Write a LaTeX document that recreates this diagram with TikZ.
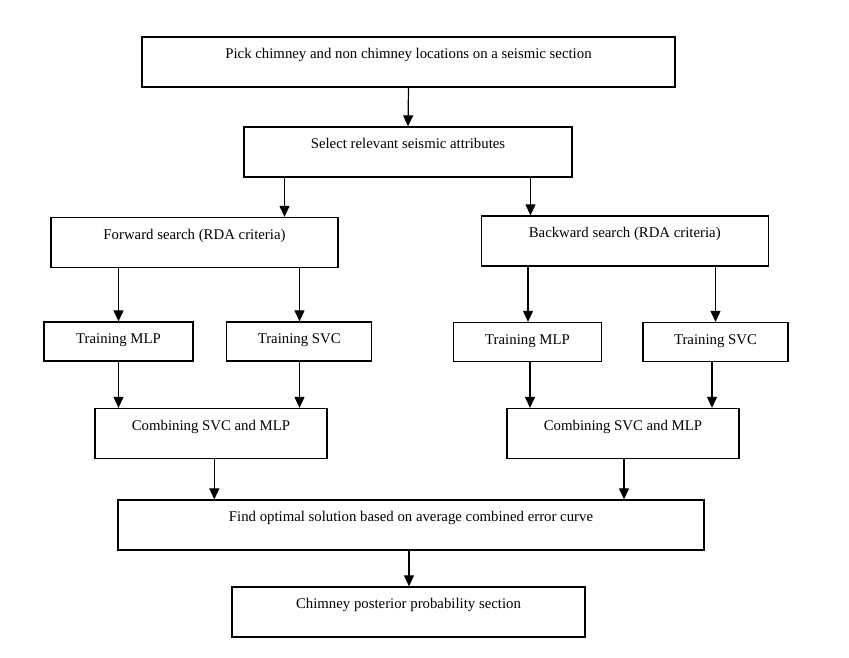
\documentclass[tikz,border=0pt]{standalone}
\usepackage{fontspec}
\setmainfont{Liberation Serif}
\usetikzlibrary{arrows.meta}
\begin{document}
\begin{tikzpicture}[x=1pt,y=-1pt,
  every node/.style={font=\fontsize{14.8}{17}\selectfont},
  boxbase/.style={draw, line width=1.3pt, inner sep=0pt, text height=10pt},
  bigbox/.style={boxbase, minimum height=50pt, text depth=17pt},
  smallbox/.style={boxbase, minimum height=39pt, text depth=6pt},
  arr/.style={line width=1.2pt, -{Triangle[length=11pt,width=10pt]}}]
\useasboundingbox (0,0) rectangle (849,658);
\node[bigbox, minimum width=533pt] (pick) at (408.5,62) {Pick chimney and non chimney locations on a seismic section};
\node[bigbox, minimum width=328pt] (select) at (408,152) {Select relevant seismic attributes};
\node[bigbox, minimum width=287pt] (fwd) at (194.5,242.5) {Forward search (RDA criteria)};
\node[bigbox, minimum width=287pt] (bwd) at (624.75,241) {Backward search (RDA criteria)};
\node[smallbox, minimum width=149pt] (mlpL) at (118.5,341.5) {Training MLP};
\node[smallbox, minimum width=145pt] (svcL) at (299.25,341.5) {Training SVC};
\node[smallbox, minimum width=148pt] (mlpR) at (527.5,342) {Training MLP};
\node[smallbox, minimum width=145pt] (svcR) at (715.5,342) {Training SVC};
\node[bigbox, minimum width=232pt] (combL) at (211,433.5) {Combining SVC and MLP};
\node[bigbox, minimum width=232pt] (combR) at (623,433.5) {Combining SVC and MLP};
\node[bigbox, minimum width=586pt] (find) at (411,525) {Find optimal solution based on average combined error curve};
\node[bigbox, minimum width=353pt] (post) at (408.5,612) {Chimney posterior probability section};

\draw[arr] (pick.south) -- (select.north);
\draw[arr] ([xshift=-123.5pt]select.south) -- ([xshift=90pt]fwd.north);
\draw[arr] ([xshift=122.5pt]select.south) -- ([xshift=-94.25pt]bwd.north);
\draw[arr] ([xshift=-76pt]fwd.south) -- (mlpL.north);
\draw[arr] ([xshift=105pt]fwd.south) -- ([xshift=0.25pt]svcL.north);
\draw[arr] ([xshift=-96.75pt]bwd.south) -- ([xshift=0.5pt]mlpR.north);
\draw[arr] ([xshift=90.75pt]bwd.south) -- (svcR.north);
\draw[arr] (mlpL.south) -- ([xshift=-92.5pt]combL.north);
\draw[arr] ([xshift=0.25pt]svcL.south) -- ([xshift=88.5pt]combL.north);
\draw[arr] ([xshift=2.5pt]mlpR.south) -- ([xshift=-93pt]combR.north);
\draw[arr] ([xshift=-3.5pt]svcR.south) -- ([xshift=89pt]combR.north);
\draw[arr] ([xshift=3.3pt]combL.south) -- ([xshift=-196.7pt]find.north);
\draw[arr] ([xshift=1pt]combR.south) -- ([xshift=213pt]find.north);
\draw[arr] ([xshift=-2pt]find.south) -- ([xshift=0.5pt]post.north);
\end{tikzpicture}
\end{document}
